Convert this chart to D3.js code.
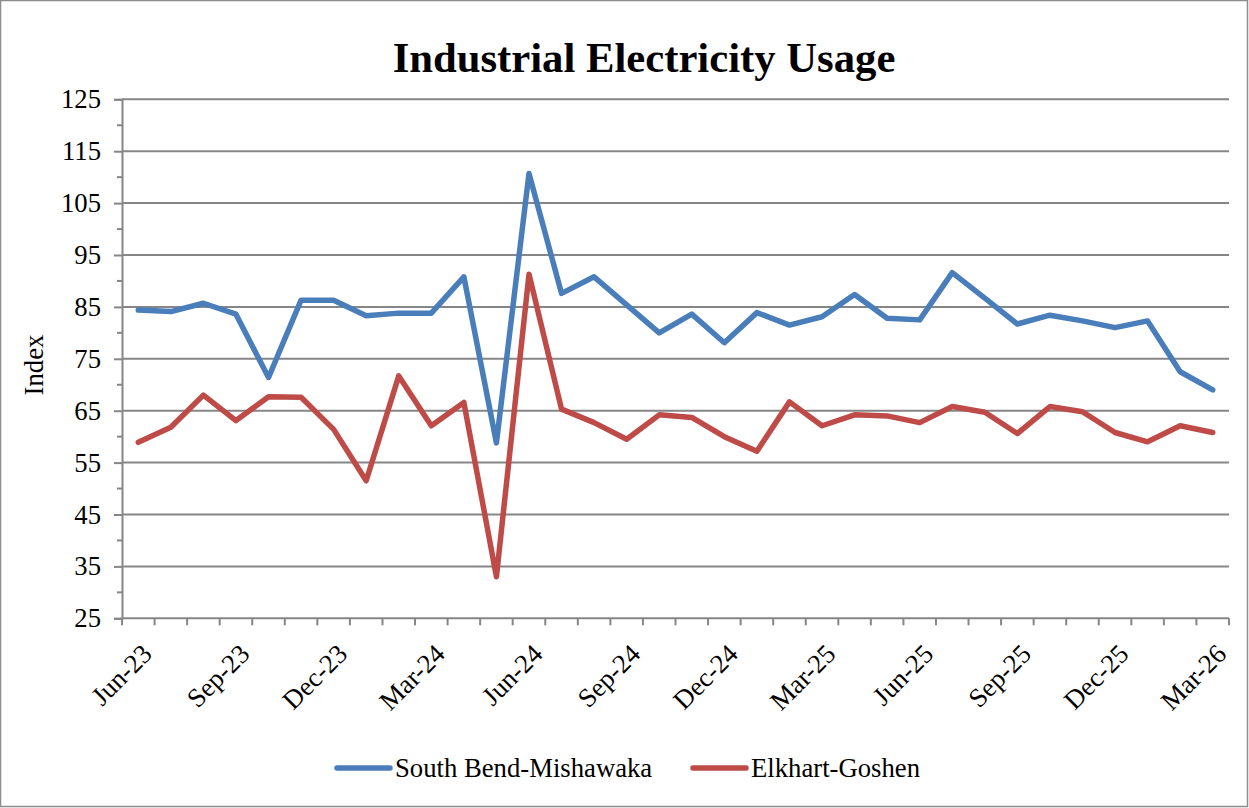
<!DOCTYPE html>
<html>
<head>
<meta charset="utf-8">
<script src="https://cdn.jsdelivr.net/npm/d3@7"></script>
<style>
  html, body { margin: 0; padding: 0; background: #fff; }
  svg { display: block; }
  text { font-family: "Liberation Serif", "Times New Roman", serif; fill: #000; }
</style>
</head>
<body>
<svg id="chart" width="1249" height="808"></svg>
<script>
const months = ["Jun-23","Jul-23","Aug-23","Sep-23","Oct-23","Nov-23","Dec-23","Jan-24","Feb-24","Mar-24","Apr-24","May-24",
  "Jun-24","Jul-24","Aug-24","Sep-24","Oct-24","Nov-24","Dec-24","Jan-25","Feb-25","Mar-25","Apr-25","May-25",
  "Jun-25","Jul-25","Aug-25","Sep-25","Oct-25","Nov-25","Dec-25","Jan-26","Feb-26","Mar-26"];
const southBend = [84.4, 84.1, 85.7, 83.6, 71.4, 86.3, 86.3, 83.3, 83.8, 83.8, 90.8, 58.8,
  110.7, 87.6, 90.8, 85.4, 80.0, 83.6, 78.1, 83.9, 81.5, 83.1, 87.4, 82.8,
  82.5, 91.6, 86.7, 81.7, 83.4, 82.3, 81.0, 82.3, 72.5, 69.0];
const elkhart = [58.9, 61.8, 68.0, 63.1, 67.7, 67.6, 61.4, 51.5, 71.7, 62.1, 66.6, 33.0,
  91.3, 65.3, 62.7, 59.5, 64.2, 63.7, 60.0, 57.2, 66.7, 62.1, 64.2, 64.0,
  62.7, 65.8, 64.7, 60.6, 65.8, 64.8, 60.8, 59.0, 62.1, 60.8];
const yTicks = [25, 35, 45, 55, 65, 75, 85, 95, 105, 115, 125];
const xLabels = ["Jun-23","Sep-23","Dec-23","Mar-24","Jun-24","Sep-24","Dec-24","Mar-25","Jun-25","Sep-25","Dec-25","Mar-26"];
const seriesNames = ["South Bend-Mishawaka", "Elkhart-Goshen"];
const seriesColors = ["#4A7EBB", "#BE4B48"];
const titleText = "Industrial Electricity Usage";
const yTitle = "Index";

const svg = d3.select("#chart");
const W = 1249, H = 808;
const pLeft = 122, pRight = 1229, pTop = 99.3, pBottom = 618.3;
const gridColor = "#868686";

svg.append("rect").attr("x", 0.5).attr("y", 0.5).attr("width", W - 2).attr("height", H - 2)
  .attr("fill", "#fff").attr("stroke", "#8c8c8c").attr("stroke-width", 1.5);

const x = d3.scaleBand().domain(months).range([pLeft, pRight]).padding(0);
const y = d3.scaleLinear().domain([25, 125]).range([pBottom, pTop]);

// gridlines
svg.append("g").selectAll("line").data(yTicks.slice(1)).join("line")
  .attr("x1", pLeft).attr("x2", pRight)
  .attr("y1", d => y(d)).attr("y2", d => y(d))
  .attr("stroke", gridColor).attr("stroke-width", 2);

// y axis
const yAxis = svg.append("g").attr("transform", `translate(${pLeft},0)`)
  .call(d3.axisLeft(y).tickValues(yTicks).tickSize(8).tickPadding(13).tickFormat(d3.format("d")));
yAxis.attr("font-family", null).attr("font-size", null);
yAxis.select(".domain").attr("stroke", gridColor).attr("stroke-width", 2);
yAxis.selectAll(".tick line").attr("stroke", gridColor).attr("stroke-width", 2);
yAxis.selectAll(".tick text").style("font-size", "26.7px").style("font-family", "Liberation Serif, serif");
// minor ticks
const minor = d3.range(30, 125, 10);
svg.append("g").selectAll("line").data(minor).join("line")
  .attr("x1", pLeft - 5).attr("x2", pLeft).attr("y1", d => y(d)).attr("y2", d => y(d))
  .attr("stroke", gridColor).attr("stroke-width", 2);

// x axis
svg.append("line").attr("x1", pLeft).attr("x2", pRight).attr("y1", pBottom).attr("y2", pBottom)
  .attr("stroke", gridColor).attr("stroke-width", 2);
const bounds = d3.range(months.length + 1).map(i => i === months.length ? pRight : x(months[i]));
svg.append("g").selectAll("line").data(bounds).join("line")
  .attr("x1", d => d).attr("x2", d => d).attr("y1", pBottom).attr("y2", pBottom + 7)
  .attr("stroke", gridColor).attr("stroke-width", 2);
svg.append("g").selectAll("text").data(xLabels).join("text")
  .attr("transform", d => `translate(${x(d) + x.bandwidth() / 2 + 2},${pBottom + 24}) rotate(-45)`)
  .attr("text-anchor", "end").attr("dy", "0.7em")
  .style("font-size", "26.7px").text(d => d);

// y title
svg.append("text").attr("transform", `translate(43,365) rotate(-90)`)
  .attr("text-anchor", "middle").style("font-size", "26.7px").text(yTitle);

// title
svg.append("text").attr("x", 644).attr("y", 72).attr("text-anchor", "middle")
  .style("font-size", "42.7px").style("font-weight", "bold").text(titleText);

// lines
const line = d3.line().x((d, i) => x(months[i]) + x.bandwidth() / 2).y(d => y(d));
[southBend, elkhart].forEach((s, k) => {
  svg.append("path").datum(s).attr("d", line).attr("fill", "none")
    .attr("stroke", seriesColors[k]).attr("stroke-width", 5.5)
    .attr("stroke-linejoin", "round").attr("stroke-linecap", "round");
});

// legend
const legX = [337, 693];
seriesNames.forEach((n, k) => {
  const g = svg.append("g").attr("transform", `translate(${legX[k]},768)`);
  g.append("line").attr("x1", 0).attr("x2", 53).attr("y1", 0).attr("y2", 0)
    .attr("stroke", seriesColors[k]).attr("stroke-width", 5.5).attr("stroke-linecap", "round");
  g.append("text").attr("x", 58).attr("y", 9).style("font-size", "26.7px").text(n);
});
</script>
</body>
</html>
